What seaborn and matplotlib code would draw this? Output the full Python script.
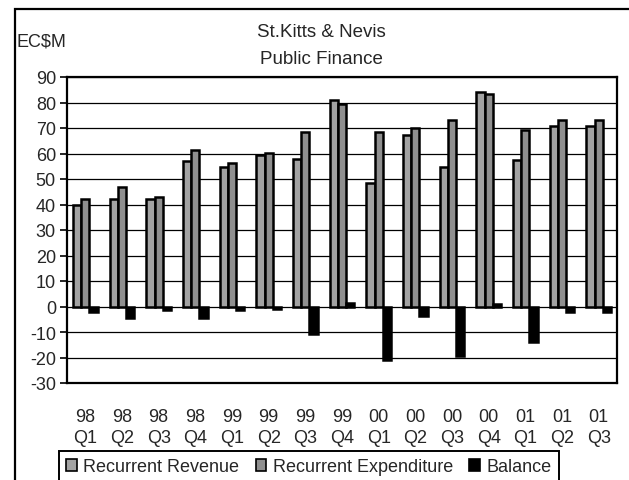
import matplotlib
matplotlib.use("Agg")
import matplotlib.pyplot as plt
import seaborn as sns
import pandas as pd
from matplotlib.patches import Rectangle

# Quarterly public finance figures, EC$ millions
quarters = ["98\nQ1", "98\nQ2", "98\nQ3", "98\nQ4",
            "99\nQ1", "99\nQ2", "99\nQ3", "99\nQ4",
            "00\nQ1", "00\nQ2", "00\nQ3", "00\nQ4",
            "01\nQ1", "01\nQ2", "01\nQ3"]
revenue = [39.7, 42.3, 42.3, 57.1, 54.9, 59.4, 57.8, 80.9,
           48.6, 67.1, 54.7, 84.1, 57.3, 70.8, 70.8]
expenditure = [42.2, 47.0, 43.1, 61.5, 56.2, 60.1, 68.6, 79.5,
               68.6, 70.1, 73.2, 83.4, 69.4, 73.1, 73.1]
balance = [-2.3, -4.6, -1.5, -4.6, -1.5, -0.8, -10.7, 1.2,
           -20.9, -3.9, -19.4, 1.0, -13.9, -2.2, -2.2]
series = ["Recurrent Revenue", "Recurrent Expenditure", "Balance"]
colors = ["#a3a3a3", "#8f8f8f", "#000000"]

df = pd.DataFrame({
    "quarter": quarters * 3,
    "series": [s for s in series for _ in quarters],
    "value": revenue + expenditure + balance,
})

sns.set_theme(style="white")
plt.rcParams["font.family"] = ["Liberation Sans", "DejaVu Sans"]
plt.rcParams["font.size"] = 13
plt.rcParams["axes.unicode_minus"] = False

W, H = 629, 481
fig = plt.figure(figsize=(W / 100, H / 100), dpi=100)
fig.patch.set_facecolor("white")

# chart-area border (runs past the right and bottom edges)
fig.patches.append(Rectangle((15 / W, -0.2), 1.2, 1.2 - 10 / H,
                             transform=fig.transFigure, fill=False,
                             edgecolor="black", linewidth=1.6))

ax = fig.add_axes([67 / W, 1 - 384 / H, 550 / W, 306 / H])
sns.barplot(data=df, x="quarter", y="value", hue="series",
            palette=colors, saturation=1, width=0.68,
            edgecolor="black", linewidth=1.8, ax=ax, errorbar=None)

ax.set_ylim(-30, 90)
ax.set_yticks(range(-30, 91, 10))
ax.set_xlabel("")
ax.set_ylabel("")
ax.set_axisbelow(True)
ax.yaxis.grid(True, color="black", linewidth=0.9)
ax.xaxis.grid(False)
for sp in ax.spines.values():
    sp.set_visible(True)
    sp.set_color("black")
    sp.set_linewidth(1.6)

ax.tick_params(axis="y", length=5, width=1.2, color="black",
               direction="out", pad=3, labelsize=13, left=True)
ax.tick_params(axis="x", length=0, pad=18, labelsize=13)
for lab in ax.get_xticklabels():
    lab.set_linespacing(1.3)

handles, labels = ax.get_legend_handles_labels()
ax.get_legend().remove()
leg = fig.legend(handles, labels, loc="upper left",
                 bbox_to_anchor=(59 / W, 1 - 452 / H), ncol=3,
                 frameon=True, fancybox=False, shadow=False,
                 handlelength=0.6, handleheight=0.6, handletextpad=0.35,
                 columnspacing=0.9, borderpad=0.4, fontsize=13,
                 borderaxespad=0)
leg.get_frame().set_edgecolor("black")
leg.get_frame().set_linewidth(1.4)
leg.get_frame().set_alpha(1)
for h in leg.legend_handles:
    h.set_edgecolor("black")
    h.set_linewidth(1.2)

fig.text(321 / W, 1 - 33 / H, "St.Kitts & Nevis", ha="center", va="center",
         fontsize=13.5)
fig.text(321 / W, 1 - 60 / H, "Public Finance", ha="center", va="center",
         fontsize=13.5)
fig.text(16 / W, 1 - 42 / H, "EC$M", ha="left", va="center", fontsize=13)

fig.savefig("out.png", dpi=100)
